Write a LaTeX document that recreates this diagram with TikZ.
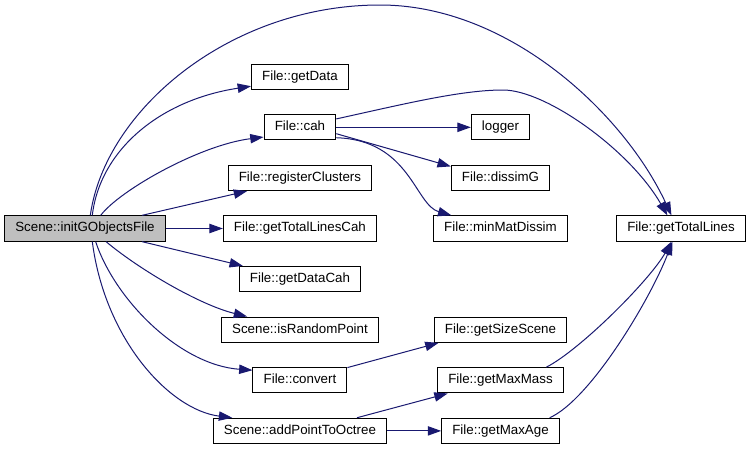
\documentclass[tikz,border=0pt]{standalone}
\usepackage{fontspec}
\setmainfont{Liberation Sans}
\usetikzlibrary{arrows.meta,positioning}
\definecolor{midnight}{HTML}{191970}
\definecolor{rootgray}{HTML}{BFBFBF}

\begin{document}
\begin{tikzpicture}[x=0.75pt, y=-0.75pt, >={Triangle[length=10pt,width=7pt]}, line width=0.75pt]
    % Estilos para los bloques
    \tikzstyle{fnblock} = [draw=black, rectangle, fill=white, minimum height=19pt, inner xsep=8pt, text height=7.2pt, text depth=2pt, align=center]
    \tikzstyle{rootblock} = [fnblock, fill=rootgray]
    \tikzstyle{call} = [->, draw=midnight]

    \useasboundingbox (0,0) rectangle (751,450);

    % --- Nodo raiz y primera columna ---
    \node [rootblock] (init) at (85,228.5) {Scene::initGObjectsFile};
    \node [fnblock, right=42.75pt of init] (linescah) {File::getTotalLinesCah};
    \node [fnblock, above=18.2pt of linescah] (regclusters) {File::registerClusters};
    \node [fnblock, above=18.2pt of regclusters] (cah) {File::cah};
    \node [fnblock, above=18.2pt of cah] (getdata) {File::getData};
    \node [fnblock, below=18.2pt of linescah] (datacah) {File::getDataCah};
    \node [fnblock, below=18.2pt of datacah] (randpoint) {Scene::isRandomPoint};
    \node [fnblock, below=18.2pt of randpoint] (convert) {File::convert};
    \node [fnblock, below=18.2pt of convert] (addpoint) {Scene::addPointToOctree};

    % --- Segunda y tercera columna ---
    \coordinate (col3) at (500.5,0);
    \coordinate (col4) at (681,0);
    \node [fnblock] (logger) at (cah -| col3) {logger};
    \node [fnblock] (dissimg) at (regclusters -| col3) {File::dissimG};
    \node [fnblock] (minmat) at (linescah -| col3) {File::minMatDissim};
    \node [fnblock] (sizescene) at (randpoint -| col3) {File::getSizeScene};
    \node [fnblock] (maxmass) at (convert -| col3) {File::getMaxMass};
    \node [fnblock] (maxage) at (addpoint -| col3) {File::getMaxAge};
    \node [fnblock] (totallines) at (linescah -| col4) {File::getTotalLines};

    % --- Llamadas desde la raiz ---
    \draw [call] (init.68) .. controls (105,110) and (230,5) .. (380,5) .. controls (510,5) and (625,115) .. (totallines.126);
    \draw [call] (init.61) .. controls (100,150) and (160,100) .. (getdata.191);
    \draw [call] (init.40) .. controls (120,190) and (200,145) .. (cah.195);
    \draw [call] (init.13) -- (regclusters.194);
    \draw [call] (init) -- (linescah);
    \draw [call] (init.347) -- (datacah.167);
    \draw [call] (init.328) .. controls (140,270) and (200,305) .. (randpoint.166);
    \draw [call] (init.309) .. controls (115,300) and (180,365) .. (convert.168);
    \draw [call] (init.299) .. controls (105,340) and (170,410) .. (addpoint.169);

    % --- Llamadas de File::cah ---
    \draw [call] (cah.13) .. controls (400,105) and (460,90) .. (503,90) .. controls (546,90) and (630,150) .. (totallines.136);
    \draw [call] (cah) -- (logger);
    \draw [call] (cah.350) -- (dissimg.167);
    \draw [call] (cah.344) .. controls (410,140) and (415,205) .. (minmat.165);

    % --- Llamadas inferiores ---
    \draw [call] (convert.15) -- (sizescene.192);
    \draw [call] (addpoint.13) -- (maxmass.194);
    \draw [call] (addpoint) -- (maxage);
    \draw [call] (maxmass.16) .. controls (580,350) and (650,280) .. (totallines.234);
    \draw [call] (maxage.15) .. controls (590,400) and (650,300) .. (totallines.237);

\end{tikzpicture}
\end{document}
